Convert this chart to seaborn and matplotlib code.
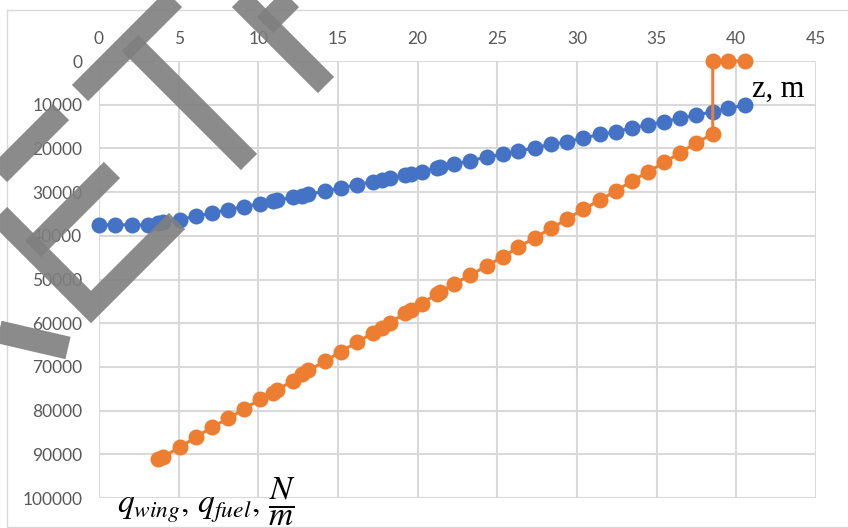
import numpy as np
import pandas as pd
import matplotlib.pyplot as plt
import seaborn as sns
from matplotlib.lines import Line2D
from matplotlib.patches import Rectangle

# wing stations (m) and distributed loads (N/m)
z_wing = [0.0, 1.0, 2.05, 3.06, 3.72, 4.03, 5.08, 6.09, 7.07, 8.12, 9.12, 10.1,
          10.9, 11.15, 12.16, 12.72, 13.14, 14.19, 15.17, 16.18, 17.22, 17.74,
          18.27, 19.2, 19.6, 20.26, 21.2, 21.4, 22.28, 23.29, 24.34, 25.34,
          26.32, 27.37, 28.37, 29.36, 30.4, 31.45, 32.45, 33.44, 34.48, 35.49,
          36.47, 37.48, 38.52, 39.5, 40.55]
q_wing = [37500, 37500, 37500, 37600, 37100, 36800, 36300, 35500, 34800, 34000,
          33300, 32700, 32100, 31900, 31200, 30800, 30500, 29800, 29100, 28300,
          27600, 27200, 26800, 26100, 25800, 25300, 24500, 24300, 23600, 22800,
          22000, 21300, 20700, 19800, 19100, 18500, 17600, 16800, 16200, 15300,
          14600, 13900, 13100, 12400, 11600, 10800, 10100]

z_fuel = [3.72, 4.03, 5.08, 6.09, 7.07, 8.12, 9.12, 10.1, 10.9, 11.15, 12.16,
          12.72, 13.14, 14.19, 15.17, 16.18, 17.22, 17.74, 18.27, 19.2, 19.6,
          20.26, 21.2, 21.4, 22.28, 23.29, 24.34, 25.34, 26.32, 27.37, 28.37,
          29.36, 30.4, 31.45, 32.45, 33.44, 34.48, 35.49, 36.47, 37.48, 38.52,
          38.52, 39.5, 40.55]
q_fuel = [91100, 90600, 88300, 86100, 83800, 81800, 79600, 77400, 75900, 75300,
          73200, 71600, 70800, 68700, 66500, 64400, 62200, 61100, 59900, 57700,
          57000, 55500, 53300, 52900, 51000, 49000, 46900, 44800, 42600, 40400,
          38300, 36200, 33900, 31800, 29700, 27500, 25300, 23200, 21000, 18700,
          16700, 0, 0, 0]

x_ticks = list(range(0, 50, 5))
y_ticks = list(range(0, 110000, 10000))

sns.set_style('white')
plt.rcParams['font.family'] = ['Lato', 'DejaVu Sans']
plt.rcParams['mathtext.fontset'] = 'stix'

W, H = 848, 528
fig = plt.figure(figsize=(W / 100, H / 100), dpi=100)
ax = fig.add_axes([99 / W, 1 - 498 / H, (816 - 99) / W, (498 - 61) / H])

wing = pd.DataFrame({'z': z_wing, 'q': q_wing})
fuel = pd.DataFrame({'z': z_fuel, 'q': q_fuel})
sns.lineplot(data=wing, x='z', y='q', sort=False, estimator=None, ax=ax,
             color='#4472C4', marker='o', markersize=11.5, markeredgewidth=0,
             linewidth=2.2, clip_on=False, zorder=3)
sns.lineplot(data=fuel, x='z', y='q', sort=False, estimator=None, ax=ax,
             color='#ED7D31', marker='o', markersize=11.5, markeredgewidth=0,
             linewidth=2.2, clip_on=False, zorder=3)

ax.set_xlim(0, 45)
ax.set_ylim(100000, 0)
ax.xaxis.tick_top()
ax.set_xticks(x_ticks)
ax.set_yticks(y_ticks)
ax.tick_params(length=0, colors='#595959', labelsize=12.5)
ax.tick_params(axis='x', pad=10)
ax.tick_params(axis='y', pad=12)
ax.grid(True, color='#D9D9D9', linewidth=1.5)
for s in ax.spines.values():
    s.set_visible(False)
ax.set_xlabel('')
ax.set_ylabel('')

fig.text(752 / W, 1 - 97 / H, 'z, m', family='Liberation Serif', fontsize=22,
         ha='left', va='baseline', color='black')
fig.text(117 / W, 1 - 513 / H,
         r'$q_{wing},\, q_{fuel},\, \dfrac{N}{m}$',
         fontsize=24, ha='left', va='baseline', color='black')

# chart area border
fig.add_artist(Rectangle((7 / W, 1 - 527 / H), 1.0, (527 - 10) / H,
                         transform=fig.transFigure, fill=False,
                         edgecolor='#D9D9D9', linewidth=1))

# grey strokes drawn over the chart (pixel coords, y from top)
strokes = [
    [(80, 93), (185, -12)],
    [(130, 43), (249, 162)],
    [(326, 85), (221, -20)],
    [(265, 25), (305, -15)],
    [(380, -12), (416, -5)],
    [(61, 112), (-15, 188)],
    [(112, 170), (33, 249)],
    [(-15, 201), (91, 307), (177, 221)],
    [(-5, 331), (68, 348)],
]
for pts in strokes:
    xs = [p[0] / W for p in pts]
    ys = [1 - p[1] / H for p in pts]
    fig.add_artist(Line2D(xs, ys, transform=fig.transFigure, color='#7f7f7f',
                          alpha=0.9, linewidth=16.5, solid_capstyle='butt',
                          solid_joinstyle='miter', zorder=10))

fig.savefig('out.png', dpi=100)
